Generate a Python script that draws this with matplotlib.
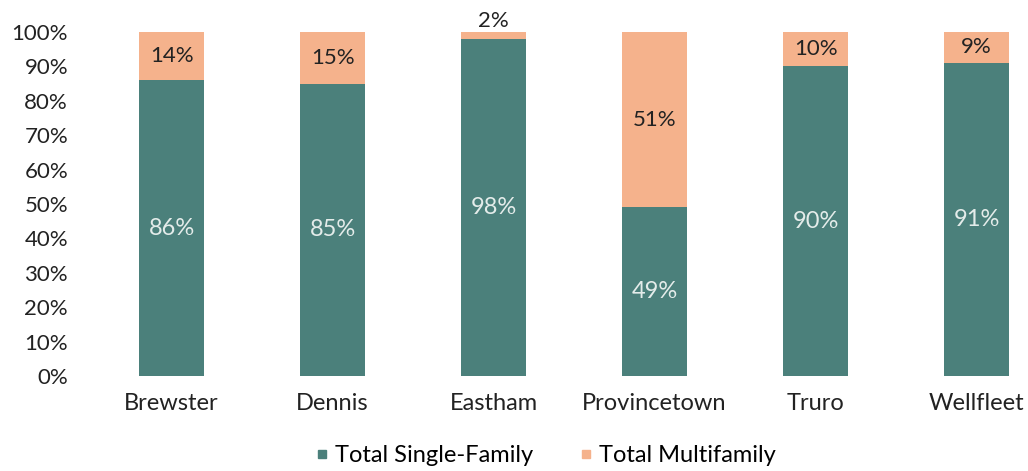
import numpy as np
import matplotlib.pyplot as plt
from matplotlib.lines import Line2D

plt.rcParams['font.family'] = ['Lato', 'DejaVu Sans']

towns = ['Brewster', 'Dennis', 'Eastham', 'Provincetown', 'Truro', 'Wellfleet']
single_family = [86, 85, 98, 49, 90, 91]
multifamily = [14, 15, 2, 51, 10, 9]

teal = '#4b807b'
peach = '#f5b28c'

fig = plt.figure(figsize=(10.28, 4.71), dpi=100)
ax = fig.add_axes([0.073, 0.2017, 0.927, 0.7304])

x = np.arange(len(towns))
ax.bar(x, single_family, width=0.4, color=teal)
ax.bar(x, multifamily, width=0.4, bottom=single_family, color=peach)

for xi, sf, mf in zip(x, single_family, multifamily):
    ax.text(xi, sf / 2, f'{sf}%', ha='center', va='center', color='#e4ecea', fontsize=17)
    if mf < 5:
        # too thin to hold the label, put it above the bar
        ax.text(xi, sf + mf + 0.3, f'{mf}%', ha='center', va='bottom', color='#222222', fontsize=16)
    else:
        ax.text(xi, sf + mf / 2, f'{mf}%', ha='center', va='center', color='#222222', fontsize=16)

ax.set_ylim(0, 100)
ax.set_xlim(-0.6, 5.32)
ax.set_yticks(np.arange(0, 101, 10))
ax.set_yticklabels([f'{v}%' for v in range(0, 101, 10)], fontsize=16, color='#222222')
ax.set_xticks(x)
ax.set_xticklabels(towns, fontsize=17, color='#222222')
ax.tick_params(length=0)
ax.tick_params(axis='x', pad=12)
ax.tick_params(axis='y', pad=5)
for s in ax.spines.values():
    s.set_visible(False)

handles = [Line2D([], [], marker='s', linestyle='', color=teal, markersize=6),
           Line2D([], [], marker='s', linestyle='', color=peach, markersize=6)]
fig.legend(handles, ['Total Single-Family', 'Total Multifamily'], loc='lower center',
           bbox_to_anchor=(0.531, -0.035), ncol=2, frameon=False, fontsize=17,
           handlelength=0.5, handletextpad=0.3, columnspacing=2.0)

fig.savefig('out.png', dpi=100)
